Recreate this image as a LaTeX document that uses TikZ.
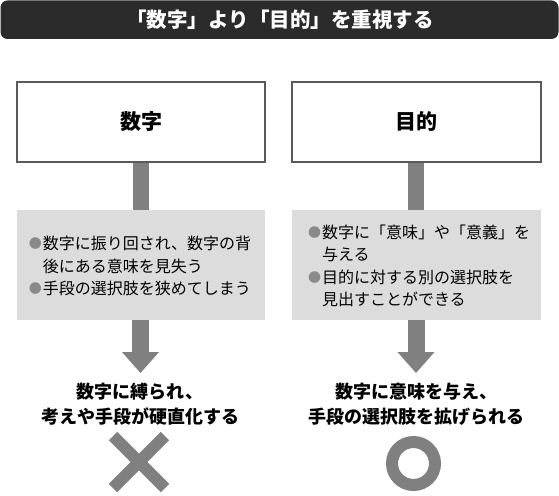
\documentclass[tikz,border=0pt]{standalone}
\usepackage{fontspec}
\setmainfont{Noto Sans CJK JP}
\usetikzlibrary{arrows.meta,shapes.misc}
\definecolor{titlebg}{HTML}{2B2B2B}
\definecolor{boxline}{HTML}{5A5A5A}
\definecolor{stemgray}{HTML}{808080}
\definecolor{panelgray}{HTML}{DCDCDC}
\definecolor{bulgray}{HTML}{8A8A8A}
\newcommand{\bul}{\makebox[14pt][l]{\raisebox{1pt}{\fontsize{13}{13}\selectfont\textcolor{bulgray}{●}}}}
\newcommand{\ind}{\hspace*{14pt}}
\begin{document}
\begin{tikzpicture}[x=1pt,y=-1pt,
  headbox/.style={draw=boxline, line width=1.2pt, fill=white, minimum width=248pt, minimum height=80pt, inner sep=0pt, font=\fontsize{21}{24}\selectfont\bfseries},
  panel/.style={fill=panelgray, minimum width=248pt, minimum height=110pt, inner sep=0pt},
  paneltext/.style={align=left, inner sep=0pt, font=\fontsize{16}{22.5}\selectfont},
  stem/.style={draw=stemgray, line width=16pt},
  downarrow/.style={draw=stemgray, line width=17pt, -{Triangle[length=21pt, width=37pt, line width=0pt]}},
  result/.style={align=center, inner sep=0pt, font=\fontsize{18}{25}\selectfont\bfseries},
  markstyle/.style={draw=stemgray, line width=12pt, inner sep=0pt}]
\useasboundingbox (0,0) rectangle (559,495);
% title bar
\fill[titlebg, rounded corners=7pt] (0.5,0.5) rectangle (558.5,39);
\node[text=white, font=\fontsize{20.5}{24}\selectfont\bfseries] (title) at (280,20) {「数字」より「目的」を重視する};
% head boxes
\node[headbox] (boxL) at (141,122) {数字};
\node[headbox, minimum width=249pt] (boxR) at (416.5,122) {目的};
% panels
\node[panel] (panelL) at (141,265) {};
\node[panel, minimum width=249pt] (panelR) at (416.5,265) {};
\node[paneltext] (textL) at (140,266) {\bul 数字に振り回され、数字の背\\\ind 後にある意味を見失う\\\bul 手段の選択肢を狭めてしまう};
\node[paneltext] (textR) at (419,266) {\bul 数字に「意味」や「意義」を\\\ind 与える\\\bul 目的に対する別の選択肢を\\\ind 見出すことができる};
% stems
\draw[stem] (boxL.south -| 140.5,0) -- (panelL.north -| 140.5,0);
\draw[stem] (boxR.south -| 416,0) -- (panelR.north -| 416,0);
% arrows
\coordinate (tipL) at (140.5,373);
\coordinate (tipR) at (416,373);
\draw[downarrow] (panelL.south -| tipL) -- (tipL);
\draw[downarrow] (panelR.south -| tipR) -- (tipR);
% results
\node[result] (resL) at (140,404) {数字に縛られ、\\考えや手段が硬直化する};
\node[result] (resR) at (416,404) {数字に意味を与え、\\手段の選択肢を拡げられる};
% marks
\node[markstyle, cross out, minimum size=40pt] (ngmark) at (139,462) {};
\node[markstyle, circle, minimum size=43pt] (okmark) at (413.5,463.5) {};
\end{tikzpicture}
\end{document}
